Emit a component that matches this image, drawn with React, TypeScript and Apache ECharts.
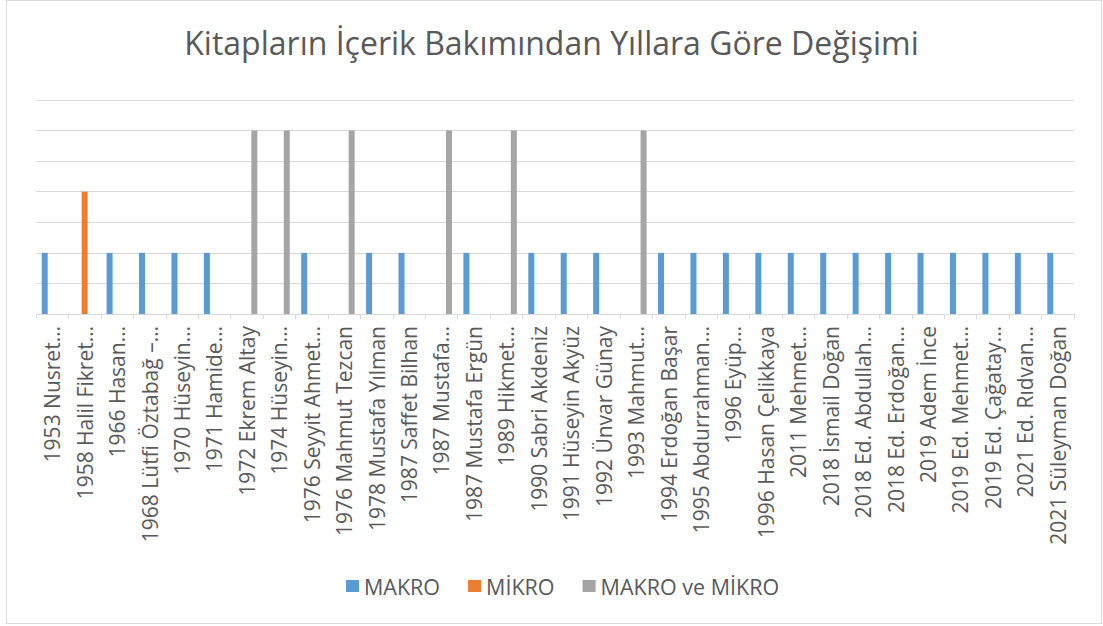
import React, { useEffect, useRef } from "react";
import * as echarts from "echarts";

const categories = [
  "1953 Nusret…",
  "1958 Halil Fikret…",
  "1966 Hasan…",
  "1968 Lütfi Öztabağ –…",
  "1970 Hüseyin…",
  "1971 Hamide…",
  "1972 Ekrem Altay",
  "1974 Hüseyin…",
  "1976 Seyyit Ahmet…",
  "1976 Mahmut Tezcan",
  "1978 Mustafa Yılman",
  "1987 Saffet Bilhan",
  "1987 Mustafa…",
  "1987 Mustafa Ergün",
  "1989 Hikmet…",
  "1990 Sabri Akdeniz",
  "1991 Hüseyin Akyüz",
  "1992 Ünvar Günay",
  "1993 Mahmut…",
  "1994 Erdoğan Başar",
  "1995 Abdurrahman…",
  "1996 Eyüp…",
  "1996 Hasan Çelikkaya",
  "2011 Mehmet…",
  "2018 İsmail Doğan",
  "2018 Ed. Abdullah…",
  "2018 Ed. Erdoğan…",
  "2019 Adem İnce",
  "2019 Ed. Mehmet…",
  "2019 Ed. Çağatay…",
  "2021 Ed. Rıdvan…",
  "2021 Süleyman Doğan",
];

const makro = [2, 0, 2, 2, 2, 2, 0, 0, 2, 0, 2, 2, 0, 2, 0, 2, 2, 2, 0, 2, 2, 2, 2, 2, 2, 2, 2, 2, 2, 2, 2, 2];
const mikro = [0, 4, 0, 0, 0, 0, 0, 0, 0, 0, 0, 0, 0, 0, 0, 0, 0, 0, 0, 0, 0, 0, 0, 0, 0, 0, 0, 0, 0, 0, 0, 0];
const makroVeMikro = [0, 0, 0, 0, 0, 0, 6, 6, 0, 6, 0, 0, 6, 0, 6, 0, 0, 0, 6, 0, 0, 0, 0, 0, 0, 0, 0, 0, 0, 0, 0, 0];

const seriesNames = ["MAKRO", "MİKRO", "MAKRO ve MİKRO"];
const titleText = "Kitapların İçerik Bakımından Yıllara Göre Değişimi";

const FONT = "'Open Sans', 'Noto Sans', sans-serif";

export default function App() {
  const ref = useRef<HTMLDivElement>(null);
  useEffect(() => {
    if (!ref.current) return;
    const chart = echarts.init(ref.current, undefined, { renderer: "svg" });
    const barCommon = { type: "bar" as const, barWidth: 6, barGap: "25%" };
    chart.setOption({
      animation: false,
      backgroundColor: "#ffffff",
      textStyle: { fontFamily: FONT },
      color: ["#5b9bd5", "#ed7d31", "#a5a5a5"],
      graphic: [
        {
          type: "rect",
          shape: { x: 6.5, y: 0.5, width: 1095, height: 623 },
          style: { fill: "none", stroke: "#d9d9d9", lineWidth: 1 },
          silent: true,
        },
      ],
      title: {
        text: titleText,
        left: "center",
        top: 21,
        textStyle: { fontFamily: FONT, fontSize: 32, fontWeight: "normal", color: "#595959" },
      },
      legend: {
        bottom: 24,
        left: 341,
        itemWidth: 13,
        itemHeight: 12,
        itemGap: 28,
        icon: "rect",
        textStyle: { fontFamily: FONT, fontSize: 21.5, color: "#595959" },
        data: seriesNames,
      },
      grid: { left: 36, right: 29, top: 100, bottom: 312, containLabel: false },
      xAxis: {
        type: "category",
        data: categories,
        axisLine: { lineStyle: { color: "#d9d9d9", width: 1 } },
        axisTick: { show: true, length: 5, lineStyle: { color: "#d9d9d9" } },
        axisLabel: { interval: 0, rotate: 90, fontSize: 21, color: "#595959", margin: 12, fontFamily: FONT },
      },
      yAxis: {
        type: "value",
        min: 0,
        max: 7,
        interval: 1,
        axisLabel: { show: false },
        axisLine: { show: false },
        axisTick: { show: false },
        splitLine: { lineStyle: { color: "#d9d9d9", width: 1 } },
      },
      series: [
        { ...barCommon, name: seriesNames[0], data: makro },
        { ...barCommon, name: seriesNames[1], data: mikro },
        { ...barCommon, name: seriesNames[2], data: makroVeMikro },
      ],
    });
    return () => chart.dispose();
  }, []);
  return (
    <div
      ref={ref}
      style={{ position: "absolute", left: 0, top: 0, width: 1103, height: 626 }}
    />
  );
}
